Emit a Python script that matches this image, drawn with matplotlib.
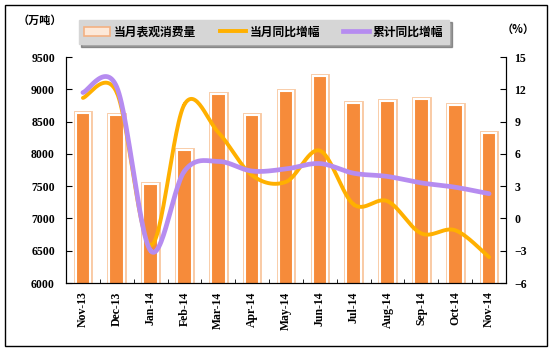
import numpy as np
import matplotlib.pyplot as plt
import matplotlib.patheffects as pe
from matplotlib.patches import Patch, Rectangle
from matplotlib.lines import Line2D

plt.rcParams['font.family'] = ['Noto Sans CJK SC', 'DejaVu Sans']

months = ['Nov-13', 'Dec-13', 'Jan-14', 'Feb-14', 'Mar-14', 'Apr-14', 'May-14',
          'Jun-14', 'Jul-14', 'Aug-14', 'Sep-14', 'Oct-14', 'Nov-14']
consumption = [8640, 8600, 7540, 8060, 8930, 8600, 8980, 9210, 8780, 8820, 8850, 8760, 8330]
monthly_yoy = [11.2, 11.7, -2.5, 10.6, 8.0, 4.0, 3.4, 6.3, 1.3, 1.6, -1.4, -1.1, -3.6]
cumulative_yoy = [11.7, 12.2, -3.0, 4.4, 5.3, 4.4, 4.6, 5.1, 4.2, 3.9, 3.3, 2.9, 2.3]

bar_color = '#f68b3a'
bar_edge = '#f9c9a2'
line1_color = '#ffb000'
line2_color = '#b68cf0'


def smooth(x, y, n=30):
    # catmull-rom curve through the points, like the spreadsheet "smoothed line"
    x = np.asarray(x, float)
    y = np.asarray(y, float)
    px = np.concatenate([[x[0]], x, [x[-1]]])
    py = np.concatenate([[y[0]], y, [y[-1]]])
    xs, ys = [], []
    t = np.linspace(0, 1, n)
    for i in range(1, len(px) - 2):
        for p, out in ((px, xs), (py, ys)):
            p0, p1, p2, p3 = p[i - 1], p[i], p[i + 1], p[i + 2]
            out.extend(0.5 * (2 * p1 + (-p0 + p2) * t
                              + (2 * p0 - 5 * p1 + 4 * p2 - p3) * t ** 2
                              + (-p0 + 3 * p1 - 3 * p2 + p3) * t ** 3))
    return xs, ys


fig = plt.figure(figsize=(5.53, 3.51), dpi=100)
fig.patches.append(Rectangle((5 / 553, 5 / 351), 542 / 553, 341 / 351,
                             transform=fig.transFigure, fill=False,
                             edgecolor='black', linewidth=1))

ax = fig.add_axes([66 / 553, 1 - 283 / 351, 440 / 553, 226 / 351])
x = np.arange(len(months))
bars = ax.bar(x, consumption, width=0.43, color=bar_color, edgecolor='white',
              linewidth=1.5, zorder=2)
for b in bars:
    b.set_path_effects([pe.Stroke(linewidth=3.5, foreground=bar_edge), pe.Normal()])
ax.set_ylim(6000, 9500)
ax.set_yticks(np.arange(6000, 9501, 500))
ax.set_xlim(-0.5, len(months) - 0.5)
ax.set_xticks(x)
ax.set_xticklabels(months, rotation=90, fontfamily='Liberation Serif',
                   fontweight='bold', fontsize=8.5)
ax.set_xticks(np.arange(-0.5, len(months), 1), minor=True)
ax.tick_params(axis='x', which='major', length=0, pad=6)
ax.tick_params(axis='x', which='minor', direction='in', length=3)
ax.tick_params(axis='y', direction='in', length=4, labelsize=8.5, pad=8)
for lab in ax.get_yticklabels():
    lab.set_fontfamily('Liberation Serif')
    lab.set_fontweight('bold')
ax.spines['top'].set_visible(False)

ax2 = ax.twinx()
sx, sy = smooth(x, monthly_yoy)
ax2.plot(sx, sy, color=line1_color, linewidth=2.8, solid_capstyle='round', zorder=3)
sx, sy = smooth(x, cumulative_yoy)
ax2.plot(sx, sy, color=line2_color, linewidth=3.4, solid_capstyle='round', zorder=4)
ax2.set_ylim(-6, 15)
ax2.set_yticks(np.arange(-6, 16, 3))
ax2.tick_params(axis='y', direction='in', length=4, labelsize=8.5, pad=6)
for lab in ax2.get_yticklabels():
    lab.set_fontfamily('Liberation Serif')
    lab.set_fontweight('bold')
ax2.spines['top'].set_visible(False)
ax2.set_xlim(-0.5, len(months) - 0.5)

fig.text(40 / 553, 1 - 20 / 351, '（万吨）', ha='center', va='center',
         fontsize=8, fontweight='bold')
fig.text(518 / 553, 1 - 29 / 351, '（%）', ha='center', va='center',
         fontsize=8, fontweight='bold')

handles = [Patch(facecolor='#fde9d9', edgecolor='#f4b183', linewidth=1.2),
           Line2D([], [], color=line1_color, linewidth=2.8),
           Line2D([], [], color=line2_color, linewidth=3.4)]
labels = ['当月表观消费量', '当月同比增幅', '累计同比增幅']
leg = fig.legend(handles, labels, loc='center', bbox_to_anchor=(264 / 553, 1 - 32 / 351),
                 ncol=3, frameon=True, fancybox=False, shadow=True,
                 prop={'size': 8.5, 'weight': 'bold'}, handlelength=2.2,
                 handletextpad=0.3, columnspacing=2.0, borderpad=0.5, borderaxespad=0)
leg.get_frame().set_facecolor('#d6d6d6')
leg.get_frame().set_edgecolor('#d6d6d6')

fig.savefig('out.png', dpi=100)
